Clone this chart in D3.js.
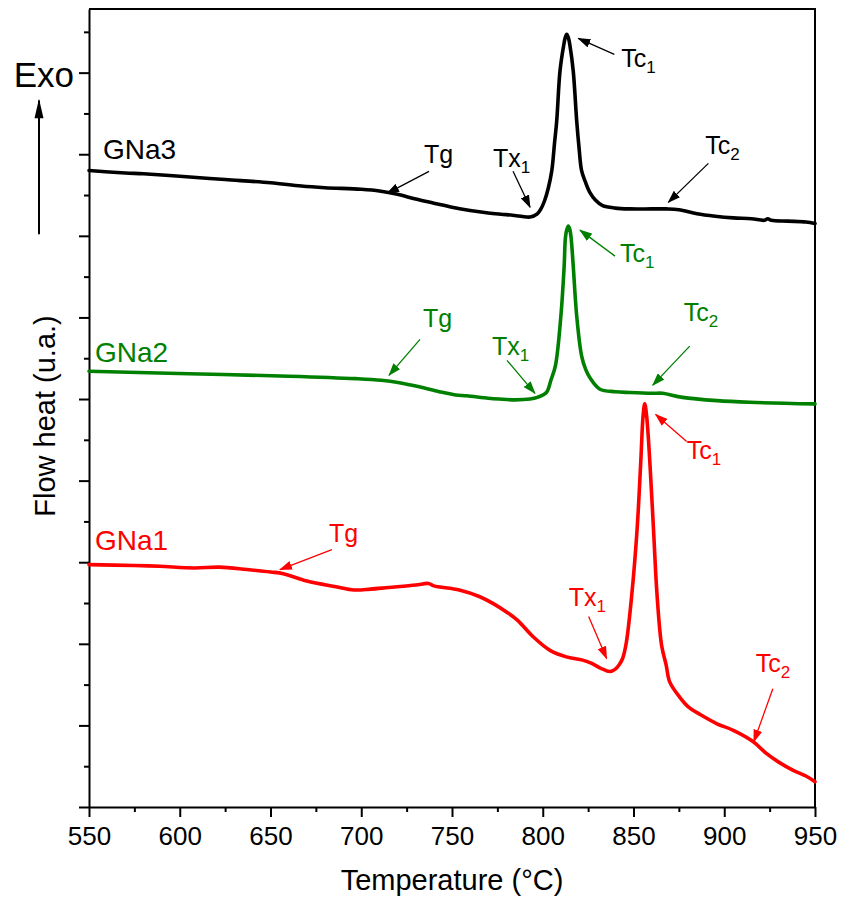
<!DOCTYPE html>
<html>
<head>
<meta charset="utf-8">
<script src="https://cdn.jsdelivr.net/npm/d3@7"></script>
<style>
    body { margin: 0; background: #fff; }
    svg { display: block; font-family: "Liberation Sans", Arial, sans-serif; }
</style>
</head>
<body>
<svg id="chart" width="841" height="904"></svg>
<script>
// DSC traces, heat flow in arbitrary units (1 unit = one major y tick)
var tempGNa3 = [550,570,580,600,625,650,667,680,700,710,720,730,740,750,760,770,780,788,793,797,
    799,801,803,805,806.5,807.7,809.5,811.5,812.4,813.2,814.1,815,816.8,818.7,820,821.4,823.5,826,829,833,
    840,848,860,868,875,885,895,905,915,922,924,926,935,945,950];
var heatGNa3 = [7.80,7.77,7.76,7.73,7.69,7.65,7.61,7.59,7.57,7.55,7.51,7.45,7.40,7.35,7.31,7.28,7.26,7.24,7.23,7.27,
    7.33,7.43,7.58,7.80,8.14,8.41,9.02,9.33,9.43,9.47,9.43,9.33,9.02,8.41,8.08,7.80,7.66,7.53,7.44,7.37,
    7.34,7.33,7.33,7.33,7.32,7.27,7.24,7.22,7.21,7.19,7.21,7.19,7.18,7.17,7.15];

var tempGNa2 = [550,605,660,697,711,721,732,743,752,758,770,776,785,793,797,802,804.5,807,810,811.8,
    812.5,813.3,814.1,814.9,815.6,816.8,818.7,821.4,823.7,826,831.5,840,848,860.7,866,877,896,914,950];
var heatGNa2 = [5.34,5.31,5.28,5.25,5.23,5.20,5.15,5.09,5.05,5.04,5.01,5.00,4.99,5.00,5.02,5.08,5.23,5.41,6.02,6.63,
    6.98,7.08,7.12,7.08,6.98,6.63,6.02,5.53,5.36,5.26,5.12,5.09,5.08,5.07,5.07,5.02,4.98,4.96,4.94];

var tempGNa1 = [550,575,589,608,622,637,650,657,670,686,696,705,715,730,737,740,754,765,773,780,
    786,795,804,813,822,827,832,837,840,842,844,846,849,852,854,855.3,856.2,857.2,859,861,
    863,865.5,868,870,876,880,887,896,905,916,923,930,938,945,950];
var heatGNa1 = [2.97,2.96,2.95,2.93,2.94,2.91,2.88,2.86,2.77,2.70,2.66,2.67,2.69,2.72,2.74,2.71,2.66,2.58,2.49,2.39,
    2.29,2.08,1.92,1.84,1.80,1.76,1.70,1.66,1.69,1.74,1.82,2.01,2.59,3.41,4.23,4.80,4.94,4.80,4.23,3.41,
    2.59,1.98,1.74,1.53,1.33,1.23,1.13,1.02,0.94,0.80,0.66,0.55,0.45,0.38,0.31];

var seriesNames = ["GNa3", "GNa2", "GNa1"];
var xTickValues = [550, 600, 650, 700, 750, 800, 850, 900, 950];

// arrow annotations: which trace, label, subscript, and the point the arrow hits
var annSeries = ["GNa3","GNa3","GNa3","GNa3","GNa2","GNa2","GNa2","GNa2","GNa1","GNa1","GNa1","GNa1"];
var annLabel  = ["Tg","Tx","Tc","Tc","Tg","Tx","Tc","Tc","Tg","Tx","Tc","Tc"];
var annSub    = ["","1","1","2","","1","1","2","","1","1","2"];
var annTemp   = [714.2,793.0,819.6,869.2,715.3,795.7,820.5,860.6,655.2,835.2,862.2,916.3];
var annHeat   = [7.52,7.35,9.42,7.41,5.29,5.07,7.07,5.17,2.91,1.82,4.81,0.80];

var svg = d3.select("#chart"),
    margin = {top: 9, right: 26, bottom: 97, left: 89},
    width = 841 - margin.left - margin.right,
    height = 904 - margin.top - margin.bottom,
    g = svg.append("g").attr("transform", "translate(" + margin.left + "," + margin.top + ")"),
    x = d3.scaleLinear().domain([550, 950]).range([0, width]),
    y = d3.scaleLinear().domain([0, 9.78]).range([height, 0]);

var colors = {GNa3: "#000000", GNa2: "#008000", GNa1: "#ff0000"};
var traces = {
    GNa3: d3.zip(tempGNa3, heatGNa3),
    GNa2: d3.zip(tempGNa2, heatGNa2),
    GNa1: d3.zip(tempGNa1, heatGNa1)
};

// arrow heads, one per colour
var defs = svg.append("defs");
seriesNames.forEach(function(name) {
    defs.append("marker")
        .attr("id", "head-" + name)
        .attr("markerUnits", "userSpaceOnUse")
        .attr("markerWidth", 13)
        .attr("markerHeight", 9)
        .attr("refX", 12)
        .attr("refY", 4.5)
        .attr("orient", "auto")
        .append("path")
            .attr("d", "M0,0 L13,4.5 L0,9 Z")
            .attr("fill", colors[name]);
});

// axes: majors + minors, ticks outside
var minorX = d3.range(575, 950, 50),
    minorY = d3.range(0.5, 9.6, 1);

g.append("g")
    .attr("transform", "translate(0," + height + ")")
    .call(d3.axisBottom(x).tickValues(minorX).tickSize(5).tickSizeOuter(0).tickFormat(""))
    .call(function(a) { a.select(".domain").remove(); });

var xAxis = g.append("g")
    .attr("transform", "translate(0," + height + ")")
    .call(d3.axisBottom(x).tickValues(xTickValues).tickSize(10).tickSizeOuter(0).tickPadding(10));
xAxis.selectAll("text").attr("font-size", 26).attr("fill", "#000").attr("font-family", "Liberation Sans, Arial, sans-serif");

g.append("g")
    .call(d3.axisLeft(y).tickValues(minorY).tickSize(5).tickSizeOuter(0).tickFormat(""))
    .call(function(a) { a.select(".domain").remove(); });

g.append("g")
    .call(d3.axisLeft(y).tickValues(d3.range(0, 10)).tickSize(10).tickSizeOuter(0).tickFormat(""));

g.selectAll(".tick line").attr("stroke", "#000").attr("stroke-width", 2);
g.selectAll(".domain").attr("stroke", "#000").attr("stroke-width", 2);

// top and right frame
g.append("path")
    .attr("d", "M0,0 H" + width + " V" + height)
    .attr("fill", "none")
    .attr("stroke", "#000")
    .attr("stroke-width", 2);

// traces
var line = d3.line()
    .x(function(d) { return x(d[0]); })
    .y(function(d) { return y(d[1]); })
    .curve(d3.curveCatmullRom.alpha(0.5));

seriesNames.forEach(function(name) {
    g.append("path")
        .datum(traces[name])
        .attr("fill", "none")
        .attr("stroke", colors[name])
        .attr("stroke-width", 3.6)
        .attr("stroke-linejoin", "round")
        .attr("stroke-linecap", "round")
        .attr("d", line);
});

// trace names, offset from the first point
var nameOffset = {GNa3: [14, -12], GNa2: [6, -9], GNa1: [6, -15]};
seriesNames.forEach(function(name) {
    var first = traces[name][0];
    g.append("text")
        .attr("x", x(first[0]) + nameOffset[name][0])
        .attr("y", y(first[1]) + nameOffset[name][1])
        .attr("font-size", 28)
        .attr("fill", colors[name])
        .text(name);
});

// annotation layout: [tail dx, tail dy, text dx, text dy] from the arrow tip
var annOffset = [
    [42, -22, 37, -30], [-17, -36, -37, -40], [36, 16, 43, 29], [40, -39, 37, -48],
    [31, -36, 34, -48], [-28, -33, -43, -38], [35, 26, 40, 32], [37, -39, 31, -64],
    [52, -20, 49, -28], [-18, -42, -38, -52], [31, 27, 31, 44], [19, -53, 2, -70]
];

annLabel.forEach(function(lbl, i) {
    var s = annSeries[i],
        tx = x(annTemp[i]),
        ty = y(annHeat[i]),
        o = annOffset[i];

    g.append("line")
        .attr("x1", tx + o[0])
        .attr("y1", ty + o[1])
        .attr("x2", tx)
        .attr("y2", ty)
        .attr("stroke", colors[s])
        .attr("stroke-width", 1.3)
        .attr("marker-end", "url(#head-" + s + ")");

    var t = g.append("text")
        .attr("x", tx + o[2])
        .attr("y", ty + o[3])
        .attr("font-size", 25)
        .attr("fill", colors[s])
        .text(lbl);
    if (annSub[i]) {
        t.append("tspan")
            .attr("font-size", 17)
            .attr("dy", 6)
            .text(annSub[i]);
    }
});

// "Exo" marker with upward arrow
g.append("text")
    .attr("x", -15)
    .attr("y", y(9) + 14)
    .attr("text-anchor", "end")
    .attr("font-size", 35)
    .attr("fill", "#000")
    .text("Exo");

g.append("line")
    .attr("x1", -50).attr("y1", y(7.02))
    .attr("x2", -50).attr("y2", y(8.66))
    .attr("stroke", "#000")
    .attr("stroke-width", 2);
g.append("path")
    .attr("d", "M" + (-54.5) + "," + y(8.44) + " L-50," + y(8.68) + " L" + (-45.5) + "," + y(8.44) + " Z")
    .attr("fill", "#000");

// axis titles
svg.append("text")
    .attr("x", margin.left + width / 2)
    .attr("y", 890)
    .attr("text-anchor", "middle")
    .attr("font-size", 29)
    .attr("fill", "#000")
    .text("Temperature (\u00B0C)");

svg.append("text")
    .attr("transform", "translate(55," + (margin.top + 407) + ") rotate(-90)")
    .attr("text-anchor", "middle")
    .attr("font-size", 29)
    .attr("fill", "#000")
    .text("Flow heat (u.a.)");
</script>
</body>
</html>
